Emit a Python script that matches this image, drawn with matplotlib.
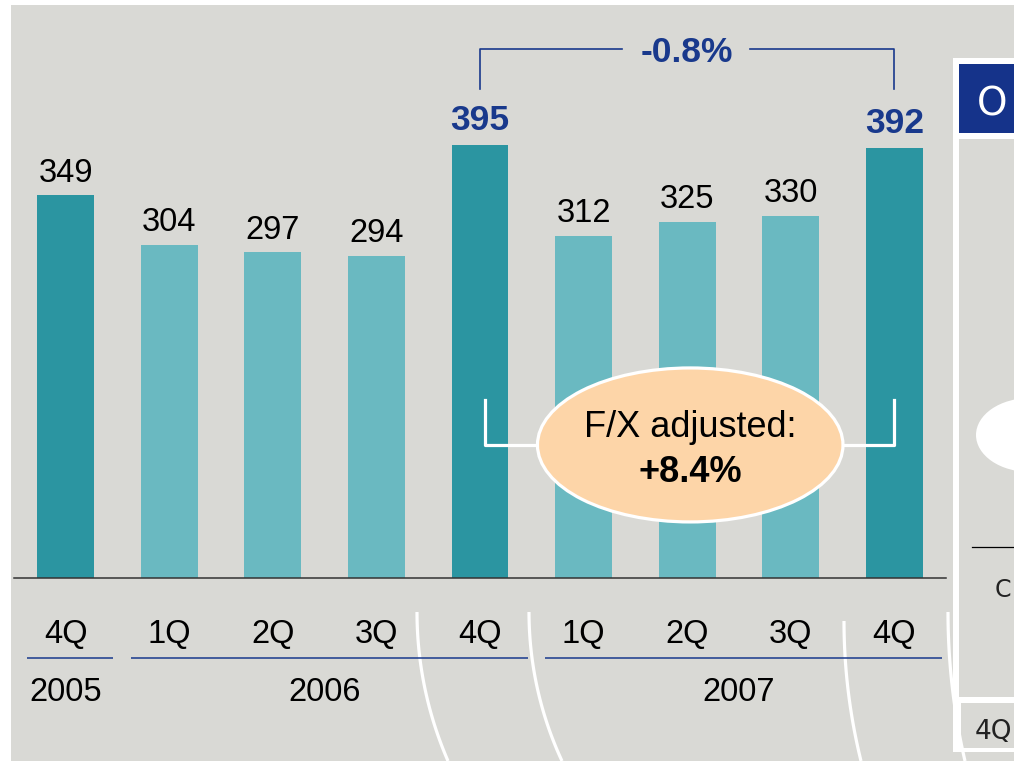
import numpy as np
import matplotlib.pyplot as plt
from matplotlib.patches import Ellipse, Rectangle

plt.rcParams["font.family"] = ["Liberation Sans", "DejaVu Sans"]

# data
quarters = ["4Q", "1Q", "2Q", "3Q", "4Q", "1Q", "2Q", "3Q", "4Q"]
values = [349, 304, 297, 294, 395, 312, 325, 330, 392]
highlight = [True, False, False, False, True, False, False, False, True]
years = ["2005", "2006", "2007"]
year_spans = [(0, 0), (1, 4), (5, 8)]
change_pair = (4, 8)
change_label = "-0.8%"
fx_label = "F/X adjusted:"
fx_value = "+8.4%"

BG = "#d9d9d5"
DARK = "#2b95a1"
LIGHT = "#6ab9c1"
NAVY = "#19398c"
HEADER = "#15338a"
PEACH = "#fdd5a8"

W, H = 1014, 761
fig = plt.figure(figsize=(W / 100, H / 100), dpi=100)
fig.patch.set_facecolor("white")

# background layer in pixel units (slide decoration)
bg = fig.add_axes([0, 0, 1, 1], zorder=0)
bg.set_xlim(0, W)
bg.set_ylim(H, 0)
bg.axis("off")
bg.add_patch(Rectangle((11, 5), W, H, color=BG, lw=0))

# right hand panel, cut off by the slide edge
bg.add_patch(Rectangle((953, 58), 80, 694, color="white", lw=0))
bg.add_patch(Rectangle((959, 64), 80, 69, color=HEADER, lw=0))
bg.add_patch(Rectangle((959, 139), 80, 558, color=BG, lw=0))
bg.add_patch(Rectangle((961, 703), 80, 45, color=BG, lw=0))
bg.add_patch(Ellipse((1030, 435), 108, 74, color="white", lw=0))
bg.plot([972, W], [547, 547], color="black", lw=0.9)
bg.text(977, 115, "O", color="white", fontsize=28, family="DejaVu Sans", va="baseline")
bg.text(995, 597, "C", color="#222222", fontsize=17, family="DejaVu Sans", va="baseline")
bg.text(975, 739, "4Q", color="#222222", fontsize=19, family="DejaVu Sans", va="baseline")

# white arcs at the bottom
arcs = [((417, 612), (448, 761)), ((529, 612), (562, 761)),
        ((844, 621), (861, 761)), ((948, 612), (965, 761))]
for (ax0, ay0), (ax1, ay1) in arcs:
    dx, dy = ax1 - ax0, ay1 - ay0
    r = (dx ** 2 + dy ** 2) / (2 * dx)
    yy = np.linspace(ay0, ay1, 80)
    xx = ax0 + r - np.sqrt(r ** 2 - (yy - ay0) ** 2)
    bg.plot(xx, yy, color="white", lw=2.3, solid_capstyle="butt")

# main chart
left_px, right_px, base_px, top_px = 14, 946, 578, 5
ppu = 1.096  # pixels per unit
ax = fig.add_axes([left_px / W, (H - base_px) / H,
                   (right_px - left_px) / W, (base_px - top_px) / H], zorder=1)
ax.set_facecolor("none")
ax.set_xlim(-0.5, len(values) - 0.5)
ax.set_ylim(0, (base_px - top_px) / ppu)
for s in ["top", "left", "right"]:
    ax.spines[s].set_visible(False)
ax.spines["bottom"].set_color("#333333")
ax.spines["bottom"].set_linewidth(1.1)
ax.set_xticks([])
ax.set_yticks([])

x = np.arange(len(values))
colors = [DARK if h else LIGHT for h in highlight]
ax.bar(x, values, width=0.55, color=colors, zorder=2)

for xi, v in zip(x, values):
    if xi in change_pair:
        ax.annotate(str(v), (xi, v), xytext=(0, 11), textcoords="offset points",
                    ha="center", va="baseline", fontsize=25.5,
                    fontweight="bold", color=NAVY)
    else:
        ax.annotate(str(v), (xi, v), xytext=(0, 10), textcoords="offset points",
                    ha="center", va="baseline", fontsize=23.5, color="black")

# category labels
q_y = -65 / ppu
line_y = -80 / ppu
yr_y = -123 / ppu
for xi, q in zip(x, quarters):
    ax.text(xi, q_y, q, ha="center", va="baseline", fontsize=23.5, clip_on=False)
for yr, (a, b) in zip(years, year_spans):
    ax.plot([a - 0.37, b + 0.46], [line_y, line_y], color=NAVY, lw=1.1,
            clip_on=False, solid_capstyle="butt")
    ax.text((a + b) / 2, yr_y, yr, ha="center", va="baseline", fontsize=23.5,
            clip_on=False)

# -0.8% bracket
i0, i1 = change_pair
top_val = max(values[i0], values[i1])
leg_lo, leg_hi = top_val + 51, top_val + 88
mid = (i0 + i1) / 2
ax.plot([i0, i0, mid - 0.63], [leg_lo, leg_hi, leg_hi], color=NAVY, lw=1.2,
        clip_on=False)
ax.plot([mid + 0.61, i1, i1], [leg_hi, leg_hi, leg_lo], color=NAVY, lw=1.2,
        clip_on=False)
ax.text(mid, leg_hi - 12.5, change_label, ha="center", va="baseline",
        fontsize=25.5, fontweight="bold", color=NAVY)

# F/X adjusted bubble
ell_x, ell_y = mid + 0.03, 121.4
ax.plot([i0 + 0.05, i0 + 0.05, ell_x], [162, ell_y, ell_y], color="white",
        lw=2.3, zorder=3)
ax.plot([ell_x, i1, i1], [ell_y, ell_y, 162], color="white", lw=2.3, zorder=3)
ax.add_patch(Ellipse((ell_x, ell_y), 2.95, 140.5, facecolor=PEACH,
                     edgecolor="white", lw=2.3, zorder=4))
ax.text(ell_x, 128.6, fx_label, ha="center", va="baseline", fontsize=26, zorder=5)
ax.text(ell_x, 87.6, fx_value, ha="center", va="baseline", fontsize=26,
        fontweight="bold", zorder=5)

fig.savefig("out.png", dpi=100)
